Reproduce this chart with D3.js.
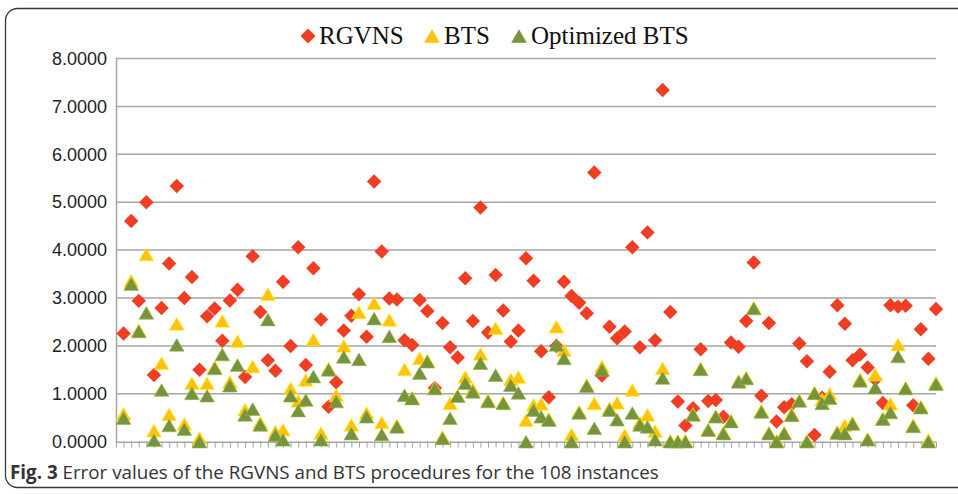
<!DOCTYPE html>
<html>
<head>
<meta charset="utf-8">
<script src="https://cdn.jsdelivr.net/npm/d3@7"></script>
<style>
  html, body { margin: 0; padding: 0; background: #fff; }
  svg { display: block; }
</style>
</head>
<body>
<div id="chart"></div>
<script>
// instances 1..108
const instances = d3.range(1, 109);

const rgvns = [
  2.26, 4.61, 2.94, 5.00, 1.39, 2.79, 3.72, 5.34, 3.00, 3.44,
  1.50, 2.62, 2.78, 2.11, 2.95, 3.17, 1.35, 3.87, 2.71, 1.70,
  1.48, 3.34, 2.00, 4.06, 1.60, 3.62, 2.55, 0.73, 1.24, 2.32,
  2.63, 3.08, 2.19, 5.43, 3.97, 2.99, 2.97, 2.12, 2.02, 2.96,
  2.73, 1.12, 2.48, 1.97, 1.76, 3.41, 2.52, 4.89, 2.28, 3.48,
  2.74, 2.09, 2.32, 3.83, 3.36, 1.89, 0.93, 2.00, 3.34, 3.04,
  2.90, 2.68, 5.62, 1.38, 2.40, 2.16, 2.30, 4.06, 1.97, 4.37,
  2.12, 7.34, 2.71, 0.84, 0.34, 0.70, 1.93, 0.85, 0.87, 0.52,
  2.07, 1.98, 2.52, 3.74, 0.96, 2.48, 0.42, 0.72, 0.78, 2.05,
  1.68, 0.14, 0.92, 1.46, 2.85, 2.46, 1.70, 1.82, 1.55, 1.30,
  0.81, 2.85, 2.82, 2.84, 0.76, 2.35, 1.73, 2.77
];

const bts = [
  0.58, 3.36, 2.33, 3.91, 0.23, 1.64, 0.57, 2.46, 0.37, 1.22,
  0.08, 1.22, 1.56, 2.52, 1.25, 2.10, 0.67, 1.57, 0.40, 3.08,
  0.21, 0.25, 1.11, 0.85, 1.29, 2.13, 0.18, 1.53, 0.97, 2.00,
  0.35, 2.70, 0.60, 2.89, 0.40, 2.54, 0.34, 1.51, 0.92, 1.74,
  1.70, 1.13, 0.10, 0.80, 0.97, 1.35, 1.10, 1.83, 0.87, 2.37,
  0.82, 1.30, 1.35, 0.45, 0.77, 0.79, 0.48, 2.40, 1.91, 0.15,
  0.63, 1.18, 0.80, 1.57, 0.70, 0.81, 0.14, 1.08, 0.40, 0.56,
  0.22, 1.53, 0.02, 0.02, 0.02, 0.58, 1.53, 0.26, 0.54, 0.19,
  0.44, 1.27, 1.34, 2.80, 0.65, 0.19, 0.02, 0.19, 0.58, 0.87,
  0.02, 1.03, 0.88, 1.00, 0.21, 0.34, 0.40, 1.31, 0.06, 1.40,
  0.49, 0.79, 2.03, 1.13, 0.35, 0.74, 0.04, 1.23
];

const optBts = [
  0.49, 3.29, 2.30, 2.69, 0.03, 1.08, 0.34, 2.02, 0.26, 1.01,
  0.00, 0.96, 1.53, 1.82, 1.17, 1.60, 0.56, 0.68, 0.35, 2.55,
  0.14, 0.04, 0.96, 0.65, 0.87, 1.36, 0.04, 1.50, 0.84, 1.77,
  0.17, 1.72, 0.52, 2.57, 0.15, 2.20, 0.31, 0.97, 0.90, 1.43,
  1.67, 1.11, 0.07, 0.49, 0.95, 1.22, 1.04, 1.64, 0.84, 1.39,
  0.80, 1.18, 1.02, 0.00, 0.66, 0.52, 0.45, 2.02, 1.74, 0.00,
  0.60, 1.16, 0.28, 1.50, 0.66, 0.46, 0.00, 0.60, 0.35, 0.31,
  0.04, 1.33, 0.00, 0.00, 0.00, 0.56, 1.51, 0.24, 0.52, 0.17,
  0.42, 1.25, 1.32, 2.78, 0.62, 0.17, 0.00, 0.17, 0.55, 0.85,
  0.00, 1.01, 0.80, 0.91, 0.18, 0.17, 0.37, 1.27, 0.04, 1.13,
  0.47, 0.61, 1.78, 1.11, 0.32, 0.71, 0.00, 1.20
];

const seriesNames = ["RGVNS", "BTS", "Optimized BTS"];
const yTicks = [0, 1, 2, 3, 4, 5, 6, 7, 8];
const caption = "Error values of the RGVNS and BTS procedures for the 108 instances";

const width = 958, height = 494;
const plot = {left: 116, right: 936, top: 58.5, bottom: 441.7};
const colors = {"RGVNS": "#ef3e23", "BTS": "#ffc20e", "Optimized BTS": "#77933c"};

// Excel style markers: square diamond, triangle centred on its box
const diamond = {
  draw(ctx, size) {
    const r = Math.sqrt(size) / 2;
    ctx.moveTo(0, -r); ctx.lineTo(r, 0); ctx.lineTo(0, r); ctx.lineTo(-r, 0); ctx.closePath();
  }
};
const triangle = {
  draw(ctx, size) {
    const h = Math.sqrt(size) / 2;
    ctx.moveTo(0, -h); ctx.lineTo(h * 1.16, h); ctx.lineTo(-h * 1.16, h); ctx.closePath();
  }
};

const svg = d3.select("#chart").append("svg")
    .attr("width", width)
    .attr("height", height);

// outer frame
svg.append("rect")
    .attr("x", 5.5).attr("y", 8.5)
    .attr("width", 980).attr("height", 479)
    .attr("rx", 12)
    .attr("fill", "#fff")
    .attr("stroke", "#3a3a3a")
    .attr("stroke-width", 1.3);

const x = d3.scaleLinear().domain([0, 108]).range([plot.left, plot.right]);
const y = d3.scaleLinear().domain([0, 8]).range([plot.bottom, plot.top]);

// gridlines
svg.append("g")
    .selectAll("line")
    .data(yTicks.slice(1))
    .join("line")
    .attr("x1", plot.left).attr("x2", plot.right)
    .attr("y1", d => y(d)).attr("y2", d => y(d))
    .attr("stroke", "#a5a5a5")
    .attr("stroke-width", 1.5);

// y axis
const yAxis = svg.append("g")
    .attr("transform", `translate(${plot.left},0)`)
    .call(d3.axisLeft(y).tickValues(yTicks).tickFormat(d3.format(".4f")).tickSize(0).tickPadding(9));
yAxis.select(".domain").attr("stroke", "#a5a5a5").attr("stroke-width", 1.5);
yAxis.selectAll("text")
    .attr("font-family", "'Liberation Sans', Arial, sans-serif")
    .attr("font-size", 18)
    .attr("fill", "#222");

// x axis with a tick per instance
const xAxis = svg.append("g")
    .attr("transform", `translate(0,${plot.bottom})`)
    .call(d3.axisBottom(x).tickValues(d3.range(0, 109)).tickFormat("").tickSize(6).tickSizeOuter(0));
xAxis.select(".domain").attr("stroke", "#a5a5a5").attr("stroke-width", 1.5);
xAxis.selectAll(".tick line").attr("stroke", "#a5a5a5").attr("stroke-width", 1);

// series
const series = [
  {name: "RGVNS", values: rgvns, type: diamond, size: 210},
  {name: "BTS", values: bts, type: triangle, size: 160},
  {name: "Optimized BTS", values: optBts, type: triangle, size: 160}
];

series.forEach(s => {
  const sym = d3.symbol().type(s.type).size(s.size);
  svg.append("g")
      .selectAll("path")
      .data(instances.map((d, i) => ({i: d, v: s.values[i]})))
      .join("path")
      .attr("transform", d => `translate(${x(d.i)},${y(d.v)})`)
      .attr("d", sym)
      .attr("fill", colors[s.name])
      .attr("stroke", s.name === "RGVNS" ? "none" : d3.color(colors[s.name]).brighter(0.6))
      .attr("stroke-width", 0.6);
});

// legend
const legend = svg.append("g").attr("font-family", "'Liberation Serif', 'Times New Roman', serif").attr("font-size", 25);
const legendItems = [
  {name: seriesNames[0], mx: 308, tx: 319, size: 230},
  {name: seriesNames[1], mx: 432, tx: 444, size: 180},
  {name: seriesNames[2], mx: 519, tx: 531, size: 180}
];
legendItems.forEach((it, k) => {
  const s = series[k];
  legend.append("path")
      .attr("transform", `translate(${it.mx},36)`)
      .attr("d", d3.symbol().type(s.type).size(it.size))
      .attr("fill", colors[s.name]);
  legend.append("text")
      .attr("x", it.tx).attr("y", 44)
      .attr("fill", "#111")
      .text(it.name);
});

// caption
const cap = svg.append("text")
    .attr("x", 10).attr("y", 479)
    .attr("font-family", "'Open Sans', 'Liberation Sans', sans-serif")
    .attr("font-size", 18.8)
    .attr("fill", "#333");
cap.append("tspan").attr("font-weight", "bold").text("Fig. 3");
cap.append("tspan").text(" " + caption);
</script>
</body>
</html>
